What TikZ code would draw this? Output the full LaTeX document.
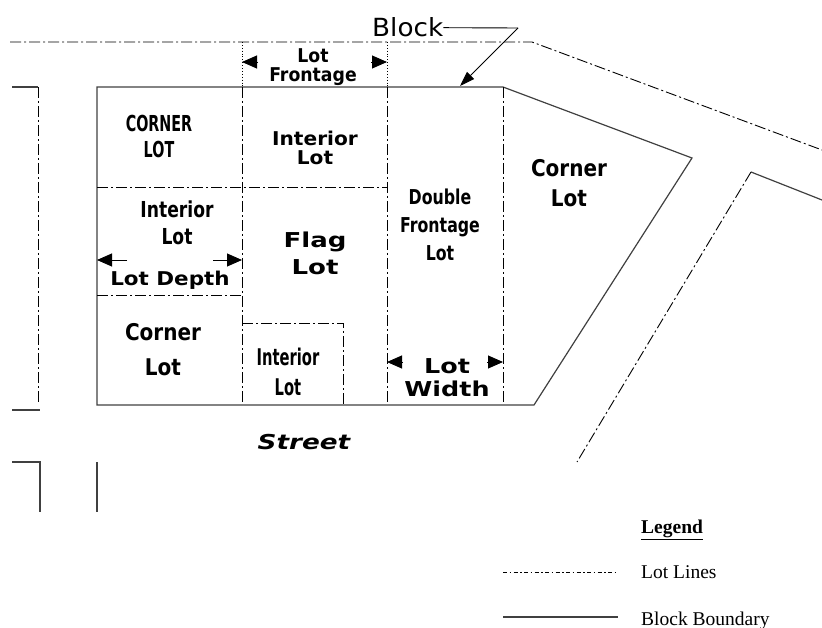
\documentclass[tikz,border=0pt]{standalone}
\usepackage{fontspec}
\usetikzlibrary{arrows.meta}
\newfontfamily\lf{DejaVu Sans}
\newfontfamily\lgf{Liberation Serif}
\newcommand\lbf[3]{\lf\bfseries\fontsize{#1}{#2}\selectfont\addfontfeature{FakeStretch=#3}}
\tikzset{
  lotline/.style={line width=0.9pt, dash pattern=on 11pt off 3pt on 2pt off 3pt},
  legendlot/.style={line width=0.9pt, dash pattern=on 4pt off 2.5pt on 1.5pt off 2.5pt},
  blockline/.style={line width=1.2pt, black!75},
  extline/.style={line width=0.9pt, dotted},
  lbl/.style={inner sep=0pt, anchor=base, align=center},
  dimtip/.style={-{Triangle[length=15pt,width=13pt]}, line width=0.9pt},
  legtext/.style={inner sep=0pt, anchor=base west, font=\lgf\fontsize{19.5}{22}\selectfont}
}
\begin{document}
\begin{tikzpicture}[x=1pt,y=-1pt]
\useasboundingbox (0,0) rectangle (822,628);
% block boundary
\draw[blockline] (97,87) -- (503,87) -- (692,158) -- (534,405) -- (97,405) -- cycle;
% lot lines inside block
\draw[lotline] (242,87) -- (242,405);
\draw[lotline] (387,87) -- (387,405);
\draw[lotline] (503,87) -- (503,405);
\draw[lotline] (97,187) -- (387,187);
\draw[lotline] (97,295) -- (242,295);
\draw[lotline] (242,323) -- (343,323) -- (343,405);
% outer lot lines
\draw[lotline] (10,42) -- (532,42) -- (822,150);
\draw[blockline] (822,200) -- (751,172);
\draw[lotline] (751,172) -- (577,462);
\draw[blockline] (12,87) -- (38,87);
\draw[lotline] (38,87) -- (38,405);
\draw[blockline] (12,410) -- (40,410);
\draw[blockline] (12,462) -- (40,462) -- (40,512);
\draw[blockline] (97,462) -- (97,512);
% frontage extension lines
\draw[extline] (242,42) -- (242,87);
\draw[extline] (387,42) -- (387,87);
% labels (anchor = baseline of last line)
\node[lbl, font={\lbf{22}{26}{0.65}}] (corner1) at (159,158) {CORNER\\LOT};
\node[lbl, font={\lbf{19}{19.5}{1.06}}] (int1) at (315,165) {Interior\\Lot};
\node[lbl, font={\lbf{22}{27}{0.78}}] (int2) at (177,245) {Interior\\Lot};
\node[lbl, font={\lbf{19}{19}{1.13}}] (depth) at (170,286) {Lot Depth};
\node[lbl, font={\lbf{20.5}{27}{1.27}}] (flag) at (315,275) {Flag\\Lot};
\node[lbl, font={\lbf{23}{35}{0.87}}] (corner3) at (163,375) {Corner\\Lot};
\node[lbl, font={\lbf{23}{30}{0.64}}] (int3) at (288,395) {Interior\\Lot};
\node[lbl, font={\lbf{20.5}{28}{0.77}}] (dbl) at (440,261) {Double\\Frontage\\Lot};
\node[lbl, font={\lbf{23}{30}{0.87}}] (corner2) at (569,207) {Corner\\Lot};
\node[lbl, font={\lbf{20.5}{23}{1.24}}] (width) at (447,396) {Lot\\Width};
\node[lbl, font={\lbf{19}{19}{0.91}}] (front) at (313,82) {Lot\\Frontage};
\node[lbl, font={\lbf{20.5}{22}{1.28}\itshape}] (street) at (304,449) {Street};
\node[inner sep=0pt, anchor=base west, font={\lf\fontsize{25}{28}\selectfont\addfontfeature{FakeStretch=1.05}}] (block) at (372,37) {Block};
% block pointer
\coordinate (bk1) at (518,28);
\coordinate (bk2) at (460,86);
\draw[line width=0.9pt] (block.east) -- (bk1);
\draw[line width=0.9pt, -{Triangle[length=15pt,width=10pt]}] (bk1) -- (bk2);
% frontage arrows
\coordinate (fl0) at (242,62); \coordinate (fl1) at (258,62);
\coordinate (fr0) at (387,62); \coordinate (fr1) at (371,62);
\draw[dimtip] (fl1) -- (fl0);
\draw[dimtip] (fr1) -- (fr0);
% depth arrows
\coordinate (dl0) at (97,260); \coordinate (dl1) at (127,260);
\coordinate (dr0) at (242,260); \coordinate (dr1) at (213,260);
\draw[dimtip] (dl1) -- (dl0);
\draw[dimtip] (dr1) -- (dr0);
% width arrows
\coordinate (wl0) at (387,362); \coordinate (wl1) at (403,362);
\coordinate (wr0) at (503,362); \coordinate (wr1) at (487,362);
\draw[dimtip] (wl1) -- (wl0);
\draw[dimtip] (wr1) -- (wr0);
% legend
\node[legtext, font=\lgf\bfseries\fontsize{19.5}{22}\selectfont] (legend) at (641,533) {\underline{Legend}};
\node[legtext] (leglot) at (641,578) {Lot Lines};
\node[legtext] (legblk) at (641,625) {Block Boundary};
\coordinate (la0) at (503,572); \coordinate (la1) at (618,572);
\coordinate (lb0) at (503,617); \coordinate (lb1) at (618,617);
\draw[legendlot] (la0) -- (la1);
\draw[blockline] (lb0) -- (lb1);
\end{tikzpicture}
\end{document}
